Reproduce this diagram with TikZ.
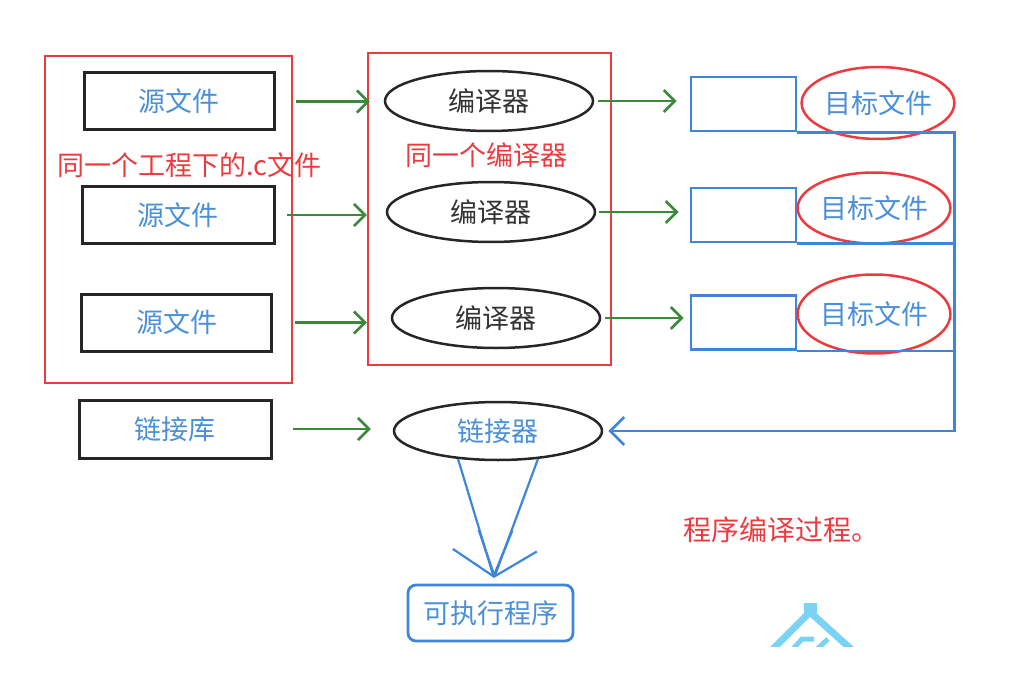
\documentclass[tikz,border=0pt]{standalone}
\usepackage{fontspec}
\newfontfamily\cjk{Noto Sans CJK SC}
\usetikzlibrary{positioning, arrows.meta, shapes.geometric}
\definecolor{srRed}{HTML}{EC3A3F}
\definecolor{srGreen}{HTML}{3A8A3A}
\definecolor{srBlue}{HTML}{3E87D8}
\definecolor{srText}{HTML}{4A90D9}
\definecolor{srGray}{HTML}{333333}
\definecolor{srSky}{HTML}{7AD3F5}
\tikzset{
  every node/.style={font=\cjk\fontsize{27}{30}\selectfont},
  srcBox/.style={draw=black!85, line width=3pt, minimum width=190pt, minimum height=57pt, text=srText},
  compEll/.style={ellipse, draw=black!85, line width=2.5pt, minimum width=208pt, minimum height=60pt, inner sep=0pt, text=srGray},
  tgtBox/.style={draw=srBlue, line width=2.8pt, minimum width=105pt, minimum height=54pt},
  tgtRing/.style={ellipse, draw=srRed, line width=2.5pt, inner sep=0pt, text=srText},
  exeBox/.style={draw=srBlue, line width=2.8pt, rounded corners=8pt, minimum width=165pt, minimum height=56pt, text=srText},
  frameRed/.style={draw=srRed, line width=2.8pt},
  labRed/.style={text=srRed, anchor=west, inner sep=0pt},
  arrG/.style={-{Straight Barb[length=11pt, width=22pt]}, srGreen, line width=2.6pt},
  arrB/.style={-{Straight Barb[length=38pt, width=62pt]}, srBlue, line width=2.2pt},
  busB/.style={-{Straight Barb[length=14pt, width=28pt]}, srBlue, line width=2.8pt},
}

\begin{document}
\begin{tikzpicture}[x=1pt, y=-1pt]
  \useasboundingbox (0,0) rectangle (1012,674);
  % source files and library
  \node[srcBox] (s1) at (179,101.5) {源文件};
  \node[srcBox, minimum width=192pt] (s2) at (178,215) {源文件};
  \node[srcBox] (s3) at (176.5,322.5) {源文件};
  \node[srcBox, minimum width=192pt, minimum height=58pt] (lib) at (175,429) {链接库};
  % compilers and linker
  \node[compEll] (c1) at (489,101) {编译器};
  \node[compEll] (c2) at (491,212) {编译器};
  \node[compEll] (c3) at (496,318) {编译器};
  \node[compEll, minimum height=58pt, text=srText] (link) at (498,431) {链接器};
  % object files
  \node[tgtBox] (t1) at (743.5,104) {};
  \node[tgtBox] (t2) at (743.5,215) {};
  \node[tgtBox] (t3) at (743.5,322.5) {};
  \node[tgtRing, minimum width=149pt, minimum height=72pt] (o1) at (878,103) {目标文件};
  \node[tgtRing, minimum width=145pt, minimum height=71pt] (o2) at (874,208) {目标文件};
  \node[tgtRing, minimum width=140pt, minimum height=79pt] (o3) at (874,314) {目标文件};
  \node[exeBox] (exe) at (490.5,613) {可执行程序};
  \coordinate (tip) at (494,578);
  % red frames and notes
  \draw[frameRed] (45,56) rectangle (292,383);
  \draw[frameRed] (368,53) rectangle (611,365);
  \node[labRed] (lab1) at (57,165) {同一个工程下的.c文件};
  \node[labRed] (lab2) at (405,155) {同一个编译器};
  \node[labRed, font=\cjk\fontsize{28}{30}\selectfont] (note) at (683,530) {程序编译过程。};
  % green arrows
  \draw[arrG] ([xshift=20pt]s1.east) -- ([xshift=-14pt]s1.east -| c1.west);
  \draw[arrG] ([xshift=11pt]s2.east) -- ([xshift=-19pt]s2.east -| c2.west);
  \draw[arrG] ([xshift=22pt]s3.east) -- ([xshift=-24pt]s3.east -| c3.west);
  \draw[arrG] ([xshift=20pt]lib.east) -- ([xshift=-22pt]lib.east -| link.west);
  \draw[arrG] ([xshift=4pt]c1.east) -- ([xshift=-13pt]c1.east -| t1.west);
  \draw[arrG] ([xshift=3pt]c2.east) -- ([xshift=-11pt]c2.east -| t2.west);
  \draw[arrG] ([xshift=4pt]c3.east) -- ([xshift=-6pt]c3.east -| t3.west);
  % blue bus back to the linker
  \draw[busB] (t1.south east) -- ++(157,0) coordinate (busTop) |- ([xshift=5pt]link.east);
  \draw[srBlue, line width=2.8pt] (t2.south east) -- (t2.south east -| busTop);
  \draw[srBlue, line width=2.8pt] (t3.south east) -- (t3.south east -| busTop);
  % linker to program
  \draw[arrB] (link.215) -- (tip);
  \draw[arrB] (link.325) -- (tip);
  % watermark corner
  \begin{scope}
    \clip (760,595) rectangle (870,646);
    \draw[srSky, line width=7pt] (772,650) -- (810,612) -- (852,650);
    \fill[srSky] (804,603) rectangle (817,613);
    \draw[srSky, line width=5pt] (792,650) -- (802,639) -- (814,639);
    \draw[srSky, line width=5pt] (816,650) -- (828,639);
  \end{scope}
\end{tikzpicture}
\end{document}
